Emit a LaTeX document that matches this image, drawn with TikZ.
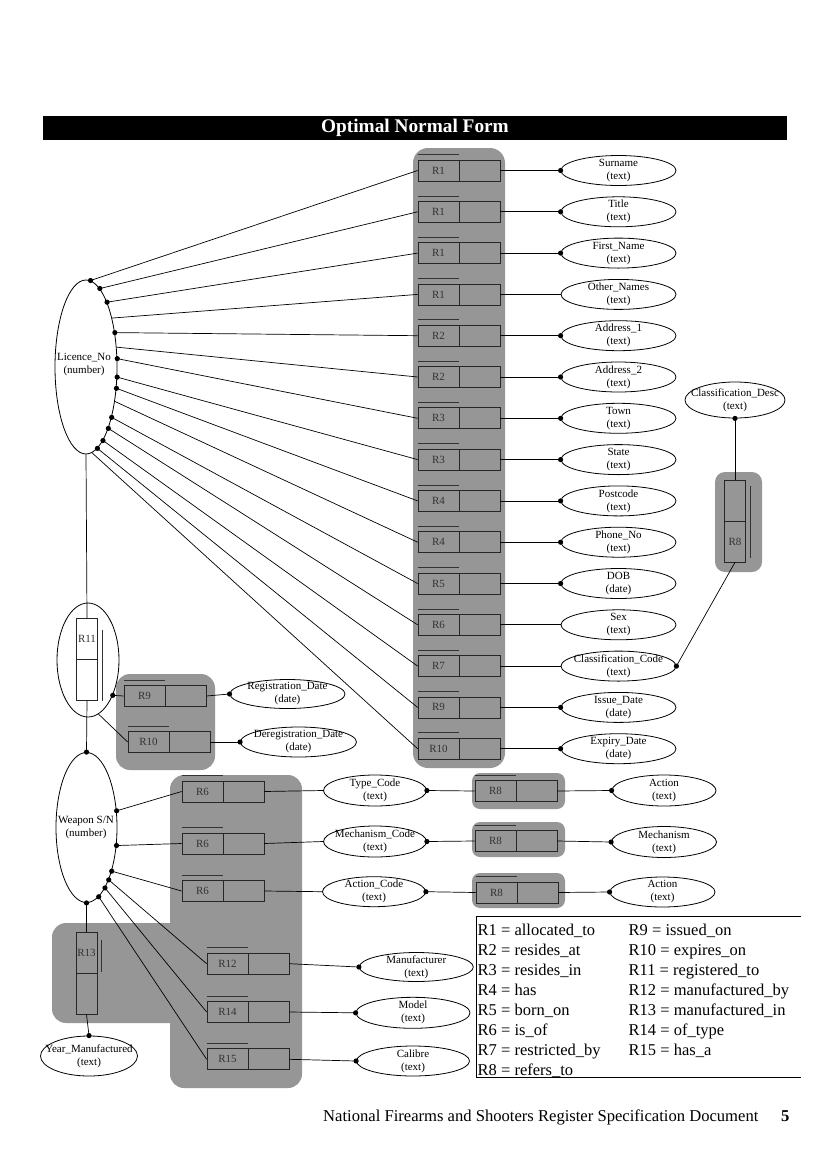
\documentclass[tikz,border=0pt]{standalone}
\usepackage{fontspec}
\setmainfont{Liberation Serif}
\usetikzlibrary{shapes.geometric}
\definecolor{panelgray}{RGB}{150,150,150}
\newcommand\relbox[4]{% name, x centre, y centre, label
  \node[cell] (#1) at ({#2-20.5},#3) {#4};
  \node[cell] (#1R) at ({#2+20.5},#3) {};
  \draw[bar] ([yshift=5pt]#1.north west) -- ([yshift=5pt]#1.north east);
}
\newcommand\vrelbox[5]{% name, x, y centre, top label, bottom label
  \node[vcell] (#1T) at (#2,{#3-20.5}) {#4};
  \node[vcell] (#1B) at (#2,{#3+20.5}) {#5};
}
\newcommand\attrnode[5][]{% opts, name, position, text, type
  \node[attr,#1] (#2) at (#3) {};
  \node[attrtxt] at (#2.center) {#4\\(#5)};
}
\newcommand\dotat[1]{\fill (#1) circle (2.6pt);}
\begin{document}
\begin{tikzpicture}[x=1pt,y=-1pt,
  conn/.style={draw=black, line width=0.7pt},
  attr/.style={ellipse, draw, line width=0.8pt, inner sep=0pt, minimum width=115pt, minimum height=30pt},
  attrtxt/.style={font=\fontsize{11}{13}\selectfont, align=center, inner sep=0pt},
  cell/.style={rectangle, draw=black!85, line width=0.7pt, minimum width=41pt, minimum height=21pt, inner sep=0pt, font=\fontsize{11}{13}\selectfont, text=black!80},
  vcell/.style={cell, minimum width=21pt, minimum height=41pt},
  panel/.style={fill=panelgray, rounded corners=14pt},
  bar/.style={line width=0.8pt, draw=black!80},
  legtxt/.style={anchor=base west, inner sep=0pt, font=\fontsize{16.5}{20}\selectfont},
]
\fill[white] (0,0) rectangle (827,1170);
\useasboundingbox (0,0) rectangle (827,1170);

% title
\fill[black] (43,116) rectangle (787,139.5);
\node[text=white, inner sep=0pt, font=\bfseries\fontsize{19.3}{22}\selectfont] (title) at (415,128) {Optimal Normal Form};

% panels
\fill[panel, rounded corners=15pt] (413,148) rectangle (505,768);
\fill[panel] (116,674) rectangle (215,770);
\fill[panel] (52,923) rectangle (200,1023);
\fill[panel] (170,775) rectangle (302,1088);
\fill[panel, rounded corners=8pt] (472,773) rectangle (565,809);
\fill[panel, rounded corners=8pt] (472,822) rectangle (565,857);
\fill[panel, rounded corners=8pt] (472,873) rectangle (565,908);
\fill[panel, rounded corners=10pt] (715,472) rectangle (762,572);

% Licence_No
\node[ellipse, draw, line width=0.8pt, inner sep=0pt, minimum width=62pt, minimum height=174pt] (lic) at (86,367) {};
\node[attrtxt] (lictxt) at (84,365) {Licence\_No\\(number)};

% central column relationship boxes
\relbox{c1}{459}{170.5}{R1}
\relbox{c2}{459}{211.8}{R1}
\relbox{c3}{459}{253.1}{R1}
\relbox{c4}{459}{294.4}{R1}
\relbox{c5}{459}{335.7}{R2}
\relbox{c6}{459}{377.0}{R2}
\relbox{c7}{459}{418.3}{R3}
\relbox{c8}{459}{459.6}{R3}
\relbox{c9}{459}{500.9}{R4}
\relbox{c10}{459}{542.2}{R4}
\relbox{c11}{459}{583.5}{R5}
\relbox{c12}{459}{624.8}{R6}
\relbox{c13}{459}{666.1}{R7}
\relbox{c14}{459}{707.4}{R9}
\relbox{c15}{459}{748.7}{R10}

% attributes
\attrnode{a1}{618.5,170.5}{Surname}{text}
\attrnode{a2}{618.5,211.8}{Title}{text}
\attrnode{a3}{618.5,253.1}{First\_Name}{text}
\attrnode{a4}{618.5,294.4}{Other\_Names}{text}
\attrnode{a5}{618.5,335.7}{Address\_1}{text}
\attrnode{a6}{618.5,377.0}{Address\_2}{text}
\attrnode{a7}{618.5,418.3}{Town}{text}
\attrnode{a8}{618.5,459.6}{State}{text}
\attrnode{a9}{618.5,500.9}{Postcode}{text}
\attrnode{a10}{618.5,542.2}{Phone\_No}{text}
\attrnode{a11}{618.5,583.5}{DOB}{date}
\attrnode{a12}{618.5,624.8}{Sex}{text}
\attrnode{a13}{618.5,666.1}{Classification\_Code}{text}
\attrnode{a14}{618.5,707.4}{Issue\_Date}{date}
\attrnode{a15}{618.5,748.7}{Expiry\_Date}{date}

% Licence_No -> boxes
\draw[conn] (lic.87) -- (c1.west);  \dotat{lic.87}
\draw[conn] (lic.80) -- (c2.west);  \dotat{lic.80}
\draw[conn] (lic.72) -- (c3.west);  \dotat{lic.72}
\draw[conn] (lic.62) -- (c4.west);
\draw[conn] (lic.50) -- (c5.west);  \dotat{lic.50}
\draw[conn] (lic.33) -- (c6.west);
\draw[conn] (lic.15) -- (c7.west);  \dotat{lic.15}
\draw[conn] (lic.-18) -- (c8.west); \dotat{lic.-18}
\draw[conn] (lic.-35) -- (c9.west); \dotat{lic.-35}
\draw[conn] (lic.-50) -- (c10.west);
\draw[conn] (lic.-63) -- (c11.west); \dotat{lic.-63}
\draw[conn] (lic.-70) -- (c12.west); \dotat{lic.-70}
\draw[conn] (lic.-77) -- (c13.west); \dotat{lic.-77}
\draw[conn] (lic.-82) -- (c14.west); \dotat{lic.-82}
\draw[conn] (lic.-86) -- (c15.west);

% boxes -> attributes
\foreach \k in {1,...,15}{\draw[conn] (c\k R.east) -- (a\k.west);}
\foreach \k in {1,2,3,5,6,7,8,9,10,11,14,15}{\dotat{a\k.west}}

% Classification_Desc and vertical R8
\attrnode[minimum width=100pt, minimum height=36pt]{cdesc}{735,400}{Classification\_Desc}{text}
\vrelbox{r8v}{735}{521}{}{R8}
\draw[bar] ([xshift=5pt,yshift=-6pt]r8vT.north east) -- ([xshift=5pt,yshift=4pt]r8vB.south east);
\draw[conn] (cdesc.south) -- (r8vT.north); \dotat{cdesc.south}
\draw[conn] (a13.east) -- (r8vB.south); \dotat{a13.east}

% R11
\node[ellipse, draw, line width=0.8pt, inner sep=0pt, minimum width=62pt, minimum height=114pt] (r11e) at (88,660) {};
\vrelbox{r11}{87}{659.5}{R11}{}
\draw[bar] ([xshift=4.5pt,yshift=-12pt]r11T.north east) -- ([xshift=4.5pt]r11B.south east);
\draw[conn] (lic.south) -- (r11T.north);

% R9 / R10
\relbox{r9}{165}{696}{R9}
\relbox{r10}{169}{742}{R10}
\attrnode[minimum height=29pt]{reg}{287.5,694}{Registration\_Date}{date}
\attrnode[minimum width=116pt]{dereg}{298.5,742}{Deregistration\_Date}{date}
\draw[conn] (r11e.-55) -- (r9.west); \dotat{r11e.-55}
\draw[conn] (r11e.-79) -- (r10.west);
\draw[conn] (r9R.east) -- (reg.west); \dotat{reg.west}
\draw[conn] (r10R.east) -- (dereg.west); \dotat{dereg.west}

% Weapon S/N
\node[ellipse, draw, line width=0.8pt, inner sep=0pt, minimum width=61pt, minimum height=150pt] (wsn) at (86.5,827.5) {};
\node[attrtxt] (wsntxt) at (86,828) {Weapon S/N\\(number)};
\draw[conn] (r11B.south) -- (wsn.north); \dotat{wsn.north}

\relbox{r6a}{223}{791.5}{R6}
\relbox{r6b}{223}{843.5}{R6}
\relbox{r6c}{223}{891}{R6}
\relbox{r12}{248}{963.7}{R12}
\relbox{r14}{248}{1012}{R14}
\relbox{r15}{248}{1059.3}{R15}

\draw[conn] (wsn.29) -- (r6a.west); \dotat{wsn.29}
\draw[conn] (wsn.-31) -- (r6b.west); \dotat{wsn.-31}
\draw[conn] (wsn.-60) -- (r6c.west); \dotat{wsn.-60}
\draw[conn] (wsn.-67) -- (r12.west); \dotat{wsn.-67}
\draw[conn] (wsn.-73) -- (r14.west); \dotat{wsn.-73}
\draw[conn] (wsn.-80) -- (r15.west); \dotat{wsn.-80}

% R13 and Year_Manufactured
\vrelbox{r13}{86.5}{973}{R13}{}
\draw[bar] ([xshift=4pt,yshift=-8pt]r13T.north east) -- ([xshift=4pt,yshift=1pt]r13T.south east);
\attrnode[minimum width=97pt, minimum height=40pt]{yr}{89,1056}{Year\_Manufactured}{text}
\draw[conn] (wsn.south) -- (r13T.north); \dotat{wsn.south}
\draw[conn] (r13B.south) -- (yr.north); \dotat{yr.north}

% codes
\attrnode[minimum width=103pt, minimum height=31pt]{typ}{375,790.5}{Type\_Code}{text}
\attrnode[minimum width=103pt, minimum height=31pt]{mech}{375,841.5}{Mechanism\_Code}{text}
\attrnode[minimum width=103pt, minimum height=30pt]{actc}{374,891.7}{Action\_Code}{text}
\draw[conn] (r6aR.east) -- (typ.west);
\draw[conn] (r6bR.east) -- (mech.west);
\draw[conn] (r6cR.east) -- (actc.west);

\relbox{r8a}{516}{791}{R8}
\relbox{r8b}{516}{841}{R8}
\relbox{r8c}{517}{892.5}{R8}
\draw[conn] (typ.east) -- (r8a.west); \dotat{typ.east}
\draw[conn] (mech.east) -- (r8b.west); \dotat{mech.east}
\draw[conn] (actc.east) -- (r8c.west); \dotat{actc.east}

\attrnode[minimum width=104pt, minimum height=31pt]{act1}{664,790.5}{Action}{text}
\attrnode[minimum width=105pt, minimum height=31pt]{mech2}{664,842}{Mechanism}{text}
\attrnode[minimum width=105pt, minimum height=30pt]{act2}{662.5,892}{Action}{text}
\draw[conn] (r8aR.east) -- (act1.west); \dotat{act1.west}
\draw[conn] (r8bR.east) -- (mech2.west); \dotat{mech2.west}
\draw[conn] (r8cR.east) -- (act2.west); \dotat{act2.west}

% manufacturer etc.
\attrnode[minimum width=114pt, minimum height=29pt]{manu}{416.3,967}{Manufacturer}{text}
\attrnode[minimum width=114pt, minimum height=31pt]{model}{413,1012.8}{Model}{text}
\attrnode[minimum width=113pt, minimum height=30pt]{cal}{413,1061}{Calibre}{text}
\draw[conn] (r12R.east) -- (manu.west); \dotat{manu.west}
\draw[conn] (r14R.east) -- (model.west); \dotat{model.west}
\draw[conn] (r15R.east) -- (cal.west); \dotat{cal.west}

% legend
\draw[line width=0.9pt] (801,916.7) -- (476,916.7) -- (476,1077.3) -- (801,1077.3);
\foreach \t [count=\k from 0] in {R1 = allocated\_to, R2 = resides\_at, R3 = resides\_in, R4 = has, R5 = born\_on, R6 = is\_of, R7 = restricted\_by, R8 = refers\_to}
  {\node[legtxt] (legl\k) at (477.5,{935.7+20*\k}) {\t};}
\foreach \t [count=\k from 0] in {R9 = issued\_on, R10 = expires\_on, R11 = registered\_to, R12 = manufactured\_by, R13 = manufactured\_in, R14 = of\_type, R15 = has\_a}
  {\node[legtxt] (legr\k) at (628.5,{935.7+20*\k}) {\t};}

% footer
\node[anchor=base west, inner sep=0pt, font=\fontsize{16.6}{20}\selectfont] (foot) at (323,1121.7) {National Firearms and Shooters Register Specification Document};
\node[anchor=base west, inner sep=0pt, font=\bfseries\fontsize{16.6}{20}\selectfont] (pg) at (781,1121.7) {5};
\end{tikzpicture}
\end{document}
